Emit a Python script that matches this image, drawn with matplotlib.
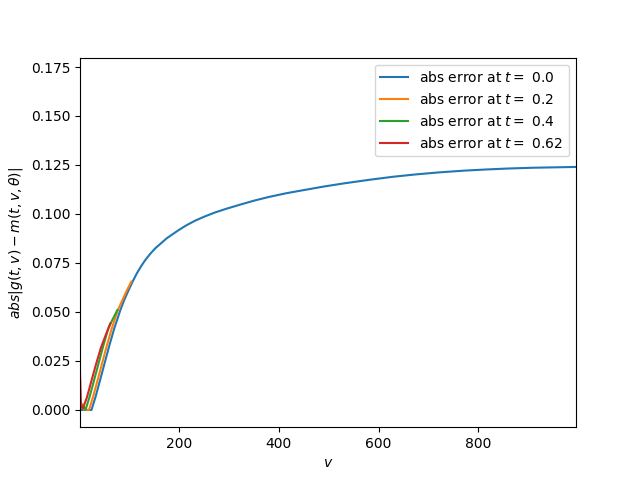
import matplotlib
matplotlib.use('Agg')
import matplotlib.pyplot as plt
import numpy as np

# values
times = ['0.0', '0.2', '0.4', '0.62']

v_t0 = [1, 10, 24, 32, 40, 50, 60, 70, 82, 90, 99, 107, 115, 124, 132, 142,
        152, 175, 199, 215, 232, 250, 271, 295, 320, 350, 380, 415, 450, 490,
        530, 580, 629, 675, 720, 770, 815, 860, 910, 995]
err_t0 = [0.0, 0.0, 0.0, 0.0065, 0.0140, 0.0235, 0.0330, 0.0418, 0.0510,
          0.0563, 0.0614, 0.0657, 0.0697, 0.0735, 0.0765, 0.0797, 0.0825,
          0.0876, 0.0918, 0.0943, 0.0966, 0.0986, 0.1007, 0.1027, 0.1046,
          0.1068, 0.1087, 0.1106, 0.1122, 0.1140, 0.1156, 0.1174, 0.1190,
          0.1202, 0.1212, 0.1221, 0.1227, 0.1232, 0.1236, 0.1240]

v_t1 = [1, 3, 6, 10, 19, 27, 35, 45, 55, 65, 77, 94, 104]
err_t1 = [0.002, 0.001, 0.003, 0.0, 0.0, 0.0065, 0.014, 0.0235, 0.033,
          0.0418, 0.051, 0.0605, 0.0655]

v_t2 = [1, 2, 5, 8, 12, 20, 28, 38, 48, 58, 67, 76]
err_t2 = [0.004, 0.004, 0.001, 0.002, 0.0, 0.0065, 0.014, 0.0235, 0.033,
          0.0418, 0.0465, 0.051]

v_t3 = [1, 3, 7, 15, 23, 33, 43, 53, 62]
err_t3 = [0.0196, 0.002, 0.001, 0.0065, 0.014, 0.0232, 0.0318, 0.0385, 0.0442]

series = [(v_t0, err_t0), (v_t1, err_t1), (v_t2, err_t2), (v_t3, err_t3)]

fig, ax = plt.subplots(figsize=(6.4, 4.8), dpi=100)
for (v, err), t in zip(series, times):
    ax.plot(v, err, label=r'abs error at $t=$ ' + t)

ax.set_xlim(1, 996)
ax.set_ylim(-0.0088, 0.1798)
ax.set_xlabel(r'$v$')
ax.set_ylabel(r'$abs|g(t,v) - m(t,v,\theta)|$')
ax.legend(loc='upper right')

fig.savefig('out.png')
